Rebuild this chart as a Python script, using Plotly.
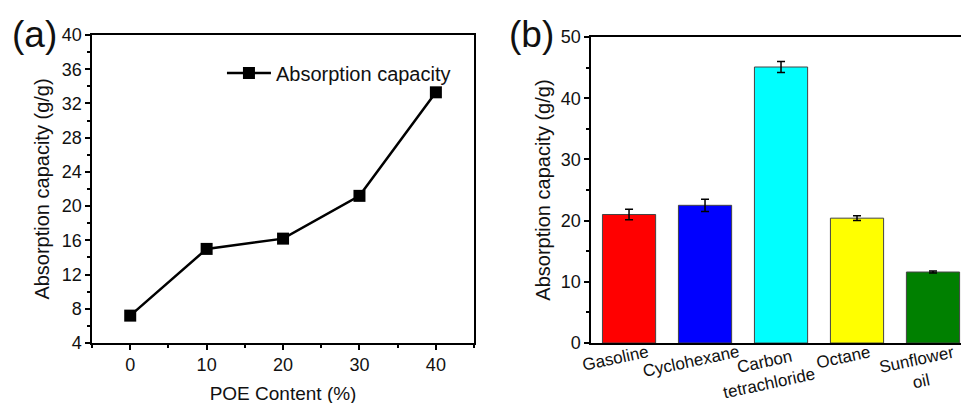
import plotly.graph_objects as go

# Panel (a)
poe_content = [0, 10, 20, 30, 40]
absorption_a = [7.2, 15.0, 16.2, 21.2, 33.3]

# Panel (b)
solvents = ["Gasoline", "Cyclohexane", "Carbon<br>tetrachloride", "Octane", "Sunflower<br>oil"]
absorption_b = [21.0, 22.5, 45.1, 20.4, 11.6]
errors_b = [0.85, 1.0, 0.9, 0.4, 0.15]
bar_colors = ["#ff0000", "#0000ff", "#00ffff", "#ffff00", "#008000"]

FONT = "Liberation Sans, Arial, sans-serif"
TXT = "#111111"

fig = go.Figure()

fig.add_trace(go.Scatter(
    x=poe_content, y=absorption_a, mode="lines+markers",
    name="Absorption capacity",
    line=dict(color="black", width=2.5),
    marker=dict(symbol="square", size=12, color="black"),
    xaxis="x", yaxis="y",
))

cat_pos = list(range(len(solvents)))
fig.add_trace(go.Bar(
    x=cat_pos, y=absorption_b, width=0.7,
    marker=dict(color=bar_colors, line=dict(color="#444444", width=1)),
    error_y=dict(type="data", array=errors_b, visible=True, color="black",
                 thickness=1.5, width=4),
    showlegend=False,
    xaxis="x2", yaxis="y2",
))


def axis(**kw):
    base = dict(
        showline=True, linecolor="black", linewidth=1.5,
        ticks="outside", ticklen=5, tickwidth=1.5, tickcolor="black",
        showgrid=False, zeroline=False,
        tickfont=dict(family=FONT, size=18, color=TXT),
        automargin=False,
    )
    base.update(kw)
    return base


title_font = dict(family=FONT, size=20, color=TXT)
minor_style = dict(ticklen=3, tickwidth=1.5, ticks="outside", tickcolor="black")

# category labels for panel (b), placed on the category axis positions
cat_labels = [
    dict(text=t, x=i, y=0, xref="x2", yref="y2", xanchor="center", yanchor="top",
         textangle=-12, showarrow=False, align="center", yshift=3, xshift=-14,
         font=dict(family=FONT, size=17, color=TXT))
    for i, t in zip(cat_pos, solvents)
]

fig.update_layout(
    width=969, height=403,
    margin=dict(l=0, r=0, t=0, b=0),
    paper_bgcolor="white", plot_bgcolor="white",
    font=dict(family=FONT, color=TXT),
    xaxis=axis(
        domain=[0.0867, 0.481], range=[-5, 45],
        tickvals=[0, 10, 20, 30, 40], mirror=True,
        minor=dict(tickvals=[-5, 5, 15, 25, 35, 45], **minor_style),
        title=dict(text="POE Content (%)", font=dict(family=FONT, size=19, color=TXT), standoff=12),
        anchor="y",
    ),
    yaxis=axis(
        domain=[0.1687, 0.933], range=[4, 40],
        tickvals=[4, 8, 12, 16, 20, 24, 28, 32, 36, 40], mirror=True,
        minor=dict(tickvals=[6, 10, 14, 18, 22, 26, 30, 34, 38], **minor_style),
        title=dict(text="Absorption capacity (g/g)", font=title_font, standoff=7),
        anchor="x",
    ),
    xaxis2=axis(
        domain=[0.6017, 0.9938], range=[-0.5, 4.5],
        tickvals=cat_pos, showticklabels=False,
        mirror=True, ticks="",
        anchor="y2",
    ),
    yaxis2=axis(
        domain=[0.1687, 0.928], range=[0, 50],
        tickvals=[0, 10, 20, 30, 40, 50],
        minor=dict(tickvals=[5, 15, 25, 35, 45], **minor_style),
        title=dict(text="Absorption capacity (g/g)", font=title_font, standoff=5),
        anchor="x2",
    ),
    legend=dict(
        x=0.2208, y=0.839, xanchor="left", yanchor="middle",
        bgcolor="rgba(0,0,0,0)", font=dict(family=FONT, size=20, color=TXT),
        itemwidth=44,
    ),
    annotations=[
        dict(text="(a)", x=0.002, y=0.935, xref="paper", yref="paper", xanchor="left", yanchor="middle",
             showarrow=False, font=dict(family=FONT, size=37, color=TXT)),
        dict(text="(b)", x=0.515, y=0.935, xref="paper", yref="paper", xanchor="left", yanchor="middle",
             showarrow=False, font=dict(family=FONT, size=37, color=TXT)),
    ] + cat_labels,
)

fig.write_html("out.html")
